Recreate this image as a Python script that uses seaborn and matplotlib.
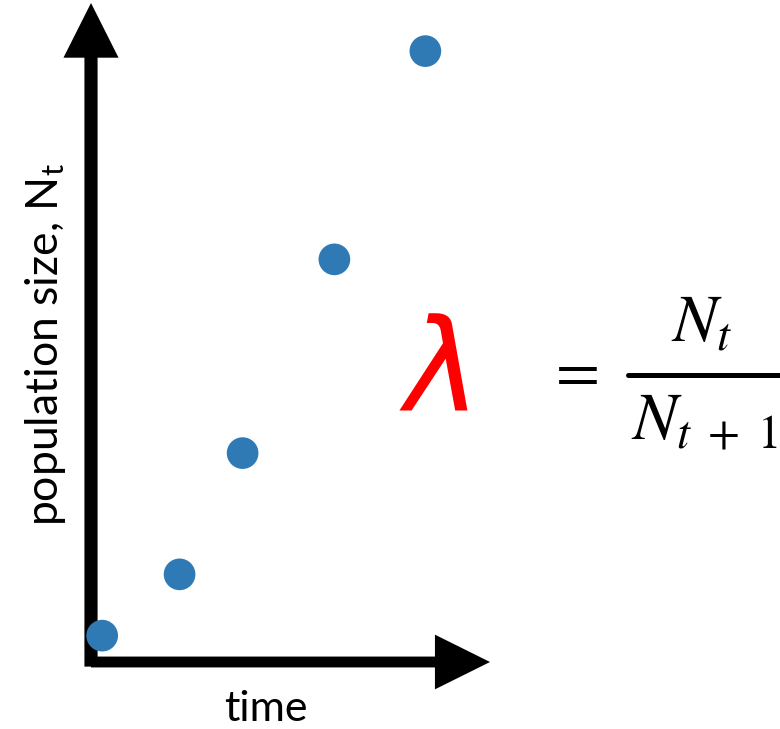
import matplotlib
matplotlib.use("Agg")
import matplotlib.pyplot as plt
import seaborn as sns
import pandas as pd

# data (axis runs 0..10 in both directions)
time = [0.28, 2.22, 3.80, 6.10, 8.38]
population = [0.40, 1.33, 3.17, 6.11, 9.27]
dot_color = '#2f7ab5'

xlabel = 'time'
ylabel = 'population size, N$_\\mathregular{t}$'

sns.set_style('white')
plt.rcParams['font.family'] = ['Lato', 'DejaVu Sans']
plt.rcParams['mathtext.fontset'] = 'stix'
plt.rcParams['text.color'] = 'black'

W, H = 780, 729
fig = plt.figure(figsize=(W / 100, H / 100), dpi=100)
# origin of the arrow axes at pixel (91, 662), tips at x=490 and y=3
ax = fig.add_axes([91 / W, 1 - 662 / H, (490 - 91) / W, (662 - 3) / H])

df = pd.DataFrame({'time': time, 'population': population})
sns.scatterplot(x='time', y='population', data=df, ax=ax, s=520,
                color=dot_color, edgecolor='none', clip_on=False, zorder=5)
ax.set_xlim(0, 10)
ax.set_ylim(0, 10)
ax.set_xticks([])
ax.set_yticks([])
for sp in ax.spines.values():
    sp.set_visible(False)
ax.set_xlabel('')
ax.set_ylabel('')

# arrow axes
ax.arrow(0, -0.007, 0, 1.007, transform=ax.transAxes, width=0.033,
         head_width=0.138, head_length=0.083, length_includes_head=True,
         color='black', lw=0, clip_on=False, zorder=3)
ax.arrow(0, 0, 1, 0, transform=ax.transAxes, width=0.0165,
         head_width=0.083, head_length=0.138, length_includes_head=True,
         color='black', lw=0, clip_on=False, zorder=3)


def px(x, y):
    return x / W, 1 - y / H


fig.text(*px(266, 709), xlabel, fontsize=31, ha='center', va='center')
fig.text(*px(46, 344), ylabel, fontsize=32, rotation=90,
         ha='center', va='center')

# lambda formula
fig.text(*px(434, 374), r'$\lambda$', fontsize=92, color='red',
         ha='center', va='center', math_fontfamily='dejavusans')
fig.text(*px(572, 372), r'$=$', fontsize=46, ha='center', va='center')
fig.text(*px(702, 322), r'$N_t$', fontsize=48, ha='center', va='center')
fig.add_artist(plt.Line2D([628 / W, 1.0], [1 - 374.5 / H, 1 - 374.5 / H],
                          transform=fig.transFigure, color='black', lw=3.6))
fig.text(*px(631, 420), r'$N_{t\ +\ 1}$', fontsize=48, ha='left',
         va='center')

fig.savefig('out.png', dpi=100)
